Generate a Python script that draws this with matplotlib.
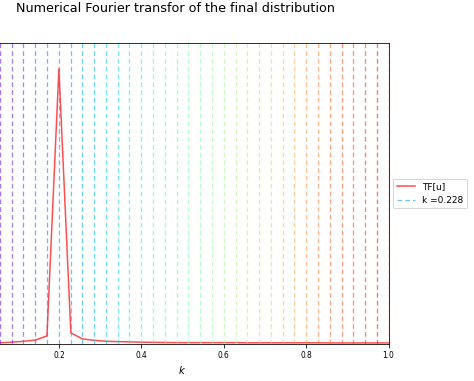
import matplotlib
matplotlib.use("Agg")
import matplotlib.pyplot as plt
import numpy as np


# wave numbers of the discrete grid (k_n = n / 35)
K_VALUES = [
    0.029, 0.057, 0.086, 0.114, 0.143, 0.171, 0.200, 0.229, 0.257, 0.286,
    0.314, 0.343, 0.371, 0.400, 0.429, 0.457, 0.486, 0.514, 0.543, 0.571,
    0.600, 0.629, 0.657, 0.686, 0.714, 0.743, 0.771, 0.800, 0.829, 0.857,
    0.886, 0.914, 0.943, 0.971, 1.000,
]

# |TF[u]| (arbitrary units)
TF_VALUES = [
    0.003, 0.004, 0.006, 0.009, 0.013, 0.027, 0.914, 0.037, 0.017, 0.012,
    0.009, 0.008, 0.007, 0.006, 0.0055, 0.005, 0.0045, 0.0045, 0.0045, 0.0045,
    0.0045, 0.0045, 0.004, 0.004, 0.004, 0.004, 0.004, 0.004, 0.004, 0.0035,
    0.0035, 0.0035, 0.0035, 0.0035, 0.0035,
]

X_TICKS = [0.2, 0.4, 0.6, 0.8, 1.0]

LABELED_INDEX = 7
LABELED_TEXT = "k =0.228"
TITLE = "Numerical Fourier transfor of the final distribution"


def main() -> None:
    fig = plt.figure(figsize=(474 / 72, 381 / 72), dpi=72)
    ax = fig.add_axes([-23.5 / 474, 37 / 381, 412 / 474, 301 / 381])

    colors = plt.cm.rainbow(np.linspace(0, 1, len(K_VALUES)))

    ax.plot(K_VALUES, TF_VALUES, color="red", alpha=0.7, lw=1.5, label="TF[u]")

    for i, kk in enumerate(K_VALUES):
        label = LABELED_TEXT if i == LABELED_INDEX else None
        ax.axvline(kk, color=colors[i], ls=(0, (3.6, 2.4)), lw=1.3, alpha=0.6,
                   label=label)

    ax.set_xlim(0, 1)
    ax.set_ylim(0, 1)
    ax.set_yticks([])
    ax.set_xticks(X_TICKS)
    ax.set_xticklabels([f"{t:.1f}" for t in X_TICKS])
    ax.tick_params(axis="x", labelsize=7.5)
    ax.set_xlabel("$k$", fontsize=10, labelpad=4)

    ax.legend(loc="center left", bbox_to_anchor=(1.0, 0.5), fontsize=9)

    fig.text(176 / 474, 1 - 9 / 381, TITLE, ha="center", va="center",
             fontsize=12.8)

    fig.savefig("out.png", dpi=72)
    plt.close(fig)


if __name__ == "__main__":
    main()
